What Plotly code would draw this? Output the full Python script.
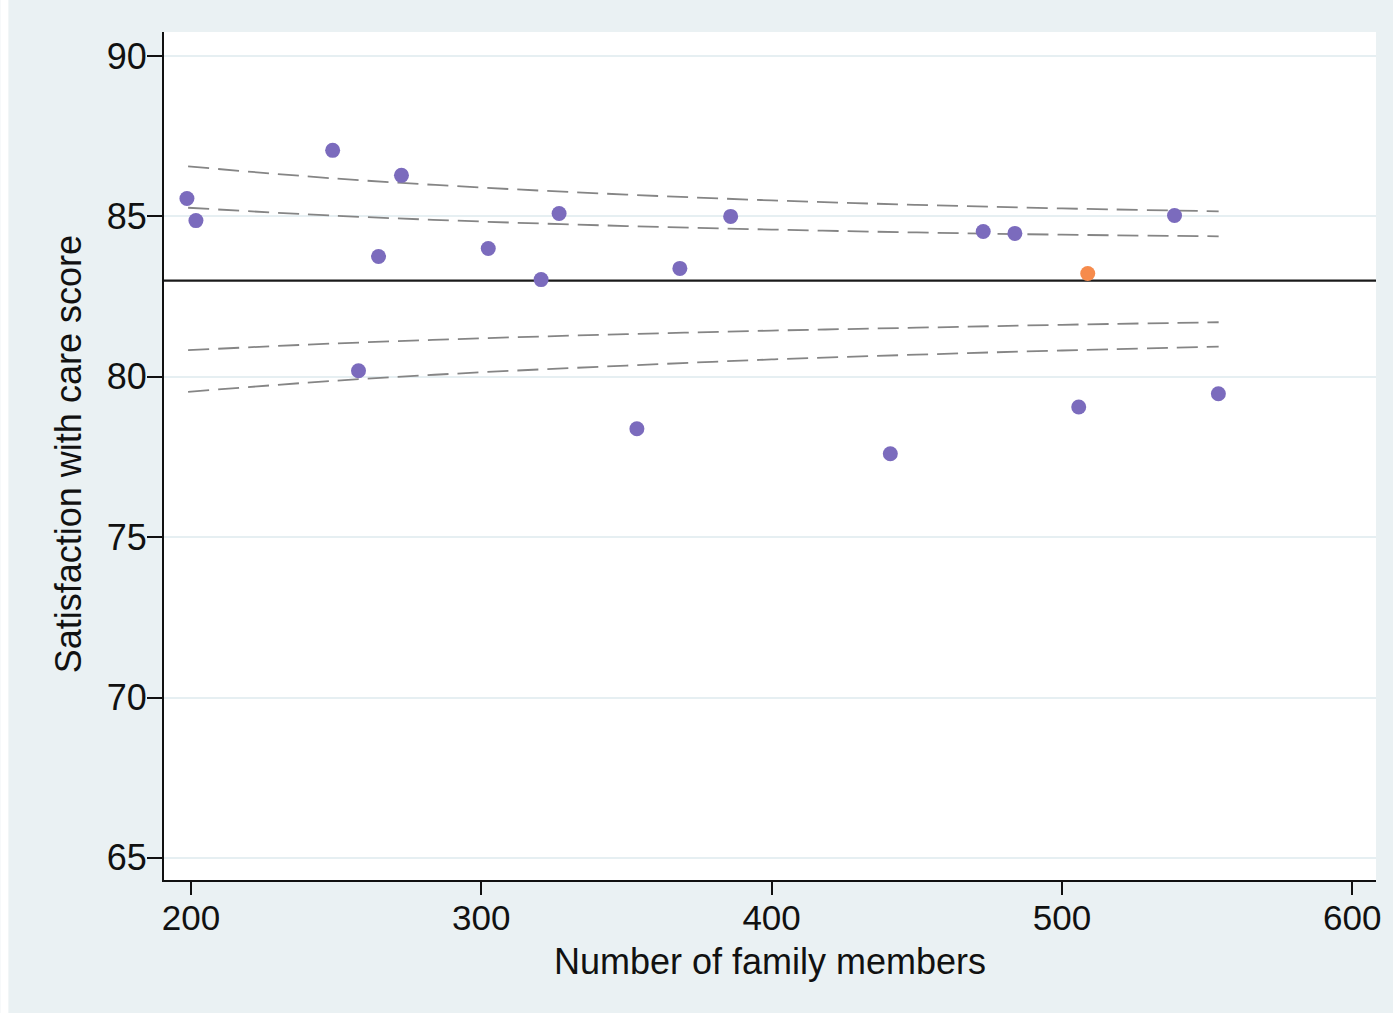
import plotly.graph_objects as go

# Units: number of family members responding and mean satisfaction score
members = [198.6, 201.7, 248.8, 272.5, 264.6, 257.7, 302.4, 320.6, 326.8, 353.6,
           368.4, 385.9, 440.9, 472.9, 483.8, 505.8, 538.8, 553.9]
scores = [85.56, 84.87, 87.06, 86.28, 83.75, 80.19, 84.00, 83.03, 85.09, 78.38,
          83.38, 85.00, 77.60, 84.53, 84.47, 79.06, 85.03, 79.47]

# Highlighted unit
hl_members = [508.9]
hl_scores = [83.22]

overall_mean = 83.0

# Funnel control limits (95% inner, 99.8% outer)
limit_n = [199, 250, 300, 350, 400, 450, 500, 554]
outer_upper = [86.56, 86.18, 85.90, 85.68, 85.50, 85.36, 85.25, 85.16]
inner_upper = [85.27, 85.02, 84.84, 84.70, 84.59, 84.50, 84.43, 84.38]
inner_lower = [80.83, 81.04, 81.20, 81.33, 81.44, 81.53, 81.62, 81.70]
outer_lower = [79.53, 79.88, 80.14, 80.35, 80.54, 80.69, 80.82, 80.94]

x_ticks = [200, 300, 400, 500, 600]
y_ticks = [65, 70, 75, 80, 85, 90]

x_title = "Number of family members"
y_title = "Satisfaction with care score"

BG = "#eaf1f3"
FONT = "Liberation Sans, Arial, sans-serif"
PURPLE = "#7b6bbd"
ORANGE = "#f68b4c"
LIMIT = "#858585"

fig = go.Figure()

for lim in (outer_upper, inner_upper, inner_lower, outer_lower):
    fig.add_trace(go.Scatter(
        x=limit_n, y=lim, mode="lines", line_shape="spline",
        line=dict(color=LIMIT, width=1.8, dash="21px,9px"),
        hoverinfo="skip", showlegend=False,
    ))

fig.add_hline(y=overall_mean, line=dict(color="#1a1a1a", width=2.2), layer="below")

fig.add_trace(go.Scatter(
    x=members, y=scores, mode="markers",
    marker=dict(color=PURPLE, size=15, line=dict(width=0)),
    showlegend=False,
))
fig.add_trace(go.Scatter(
    x=hl_members, y=hl_scores, mode="markers",
    marker=dict(color=ORANGE, size=15, line=dict(width=0)),
    showlegend=False,
))

# Page geometry
W, H = 1393, 1013
L, R, T, B = 164, 14, 32, 133
pw, ph = W - L - R, H - T - B

# White strips at the top and left edges of the page
fig.add_shape(type="rect", xref="paper", yref="paper",
              x0=-L / pw, x1=(8 - L) / pw, y0=-B / ph, y1=(H - T) / ph,
              fillcolor="white", line_width=0, layer="below")
fig.add_shape(type="rect", xref="paper", yref="paper",
              x0=-L / pw, x1=(W - L) / pw, y0=(H - T - 7) / ph, y1=(H - T) / ph,
              fillcolor="white", line_width=0, layer="below")

# Axis titles
fig.add_annotation(text=x_title, xref="paper", yref="paper",
                   x=(771 - L) / pw, y=-(961 - (H - B)) / ph,
                   xanchor="center", yanchor="middle", showarrow=False,
                   font=dict(size=36, family=FONT, color="#111111"))
fig.add_annotation(text=y_title, xref="paper", yref="paper",
                   x=(68 - L) / pw, y=((H - B) - 454) / ph, textangle=-90,
                   xanchor="center", yanchor="middle", showarrow=False,
                   font=dict(size=36, family=FONT, color="#111111"))

fig.update_layout(
    width=W, height=H,
    margin=dict(l=L, r=R, t=T, b=B),
    paper_bgcolor=BG, plot_bgcolor="white",
    font=dict(family=FONT, color="#111111"),
    showlegend=False,
)

fig.update_xaxes(
    range=[190.7, 608.2], tickvals=x_ticks, ticktext=[str(v) for v in x_ticks],
    showgrid=False, zeroline=False,
    showline=True, linecolor="#111111", linewidth=2,
    ticks="outside", ticklen=13, tickwidth=2, tickcolor="#111111",
    tickfont=dict(size=35, family=FONT), ticklabelstandoff=-7,
)
fig.update_yaxes(
    range=[64.31, 90.75], tickvals=y_ticks, ticktext=[str(v) for v in y_ticks],
    showgrid=True, gridcolor="#e6eff2", gridwidth=2,
    zeroline=False,
    showline=True, linecolor="#111111", linewidth=2,
    ticks="outside", ticklen=15, tickwidth=2, tickcolor="#111111",
    tickfont=dict(size=36, family=FONT), ticklabelstandoff=-7,
)

fig.write_html("out.html")
